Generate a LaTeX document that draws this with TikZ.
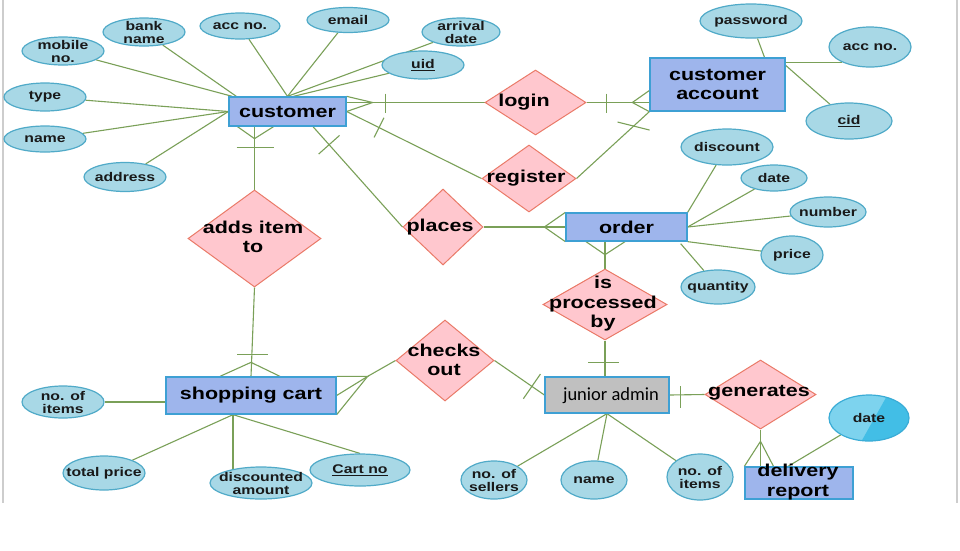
\documentclass[tikz,border=0pt]{standalone}
\usepackage{fontspec}
\setmainfont{Liberation Sans}
\newfontfamily\erfont{Liberation Sans}[FakeStretch=1.25]
\newfontfamily\adminfont{Carlito}
\usetikzlibrary{shapes.geometric,calc}
\pgfdeclarelayer{back}
\pgfdeclarelayer{bg}
\pgfsetlayers{back,bg,main}

\definecolor{entfill}{RGB}{158,181,236}
\definecolor{entdraw}{RGB}{62,160,212}
\definecolor{relfill}{RGB}{255,199,206}
\definecolor{reldraw}{RGB}{234,122,104}
\definecolor{attfill}{RGB}{168,216,230}
\definecolor{attdraw}{RGB}{80,170,200}
\definecolor{linkcol}{RGB}{122,160,88}
\definecolor{adminfill}{RGB}{192,192,192}
\definecolor{framecol}{RGB}{205,205,205}
\definecolor{datelight}{RGB}{125,211,238}
\definecolor{datedark}{RGB}{66,190,230}
\definecolor{datedraw}{RGB}{58,172,214}

\tikzset{
  etext/.style={font=\erfont\bfseries\fontsize{17.2}{19.5}\selectfont,
    align=center, text=black, inner sep=0pt},
  atext/.style={font=\erfont\bfseries\fontsize{12.6}{13}\selectfont,
    align=center, text=black!90, inner sep=0pt},
  admintext/.style={font=\adminfont\fontsize{18.5}{20}\selectfont,
    text=black, inner sep=0pt},
  entity/.style={rectangle, draw=entdraw, fill=entfill, line width=1.3pt,
    inner sep=0pt, etext},
  rel/.style={diamond, draw=reldraw, fill=relfill, line width=1pt, inner sep=0pt},
  attr/.style={ellipse, draw=attdraw, fill=attfill, line width=1.2pt, inner sep=0pt},
  link/.style={draw=linkcol, line width=1.1pt},
}

% attribute: name, position, width, height, label
\newcommand\attrnode[5]{%
  \node[attr, minimum width=#3pt, minimum height=#4pt] (#1) at (#2) {};
  \node[atext] (#1-t) at (#1) {#5};}

\begin{document}
\begin{tikzpicture}[x=1pt,y=-1pt]
\useasboundingbox (0,0) rectangle (960,550);
\begin{pgfonlayer}{back}
  \fill[white] (0,0) rectangle (960,550);
  \draw[framecol, line width=2pt] (3,0) -- (3,503);
  \draw[framecol, line width=1.5pt] (957,0) -- (957,503);
\end{pgfonlayer}

% ---------- entities ----------
\node[entity, minimum width=117pt, minimum height=29pt] (cust) at (287.5,111.5) {customer};
\node[entity, minimum width=135pt, minimum height=53pt] (acct) at (717.5,84.5) {customer\\account};
\node[entity, minimum width=121pt, minimum height=28pt] (order) at (626.5,227) {order};
\node[entity, minimum width=170pt, minimum height=37pt] (cart) at (251,395.5) {shopping cart};
\node[entity, fill=adminfill, minimum width=124pt, minimum height=36pt] (admin) at (607,395) {};
\node[admintext] (admin-t) at (611,396) {junior admin};
\node[entity, minimum width=108pt, minimum height=32pt] (del) at (799,483) {};
\node[etext] (del-t) at (798,482) {delivery\\report};

% ---------- relationships ----------
\node[rel, minimum width=101pt, minimum height=65pt] (login) at (535.5,102.5) {};
\node[etext] (login-t) at (524,102) {login};
\node[rel, minimum width=94pt, minimum height=67pt] (reg) at (529,178.5) {};
\node[etext] (reg-t) at (526,178) {register};
\node[rel, minimum width=80pt, minimum height=76pt] (places) at (443,227) {};
\node[etext] (places-t) at (440,227) {places};
\node[rel, minimum width=133pt, minimum height=97pt] (adds) at (254.5,238.5) {};
\node[etext] (adds-t) at (253,237) {adds item\\to};
\node[rel, minimum width=124pt, minimum height=71pt] (proc) at (605,304.5) {};
\node[etext] (proc-t) at (603,304) {is\\processed\\by};
\node[rel, minimum width=98pt, minimum height=81pt] (checks) at (445,360.5) {};
\node[etext] (checks-t) at (444,360) {checks\\out};
\node[rel, minimum width=111pt, minimum height=69pt] (gen) at (760.5,394.5) {};
\node[etext] (gen-t) at (759,393) {generates};

% ---------- attributes ----------
\attrnode{mob}{63,51}{82}{28}{mobile\\no.}
\attrnode{bank}{144,32}{82}{28}{bank\\name}
\attrnode{cacc}{240,26}{80}{26}{acc no.}
\attrnode{email}{348,20}{82}{25}{email}
\attrnode{arr}{461,32}{78}{28}{arrival\\date}
\attrnode{uid}{423,65}{82}{28}{\underline{uid}}
\attrnode{type}{45,97}{82}{28}{type}
\attrnode{cname}{45,139}{82}{26}{name}
\attrnode{addr}{125,177}{82}{29}{address}
\attrnode{pass}{751,21}{102}{34}{password}
\attrnode{aacc}{870,47}{82}{40}{acc no.}
\attrnode{cid}{849,121}{86}{36}{\underline{cid}}
\attrnode{disc}{727,147}{92}{36}{discount}
\attrnode{odate}{774,178}{66}{26}{date}
\attrnode{num}{828,212}{76}{30}{number}
\attrnode{price}{792,255}{62}{38}{price}
\attrnode{qty}{718,287}{74}{34}{quantity}
\attrnode{citems}{63,402}{82}{32}{no. of\\items}
\attrnode{tprice}{104,473}{82}{34}{total price}
\attrnode{disca}{261,483}{102}{32}{discounted\\amount}
\attrnode{cartno}{360,470}{100}{32}{\underline{Cart no}}
\attrnode{sellers}{494,480}{66}{38}{no. of\\sellers}
\attrnode{aname}{594,480}{66}{38}{name}
\attrnode{aitems}{700,477}{66}{46}{no. of\\items}
\node[attr, draw=datedraw, fill=datelight, minimum width=80pt, minimum height=46pt,
  path picture={\fill[datedark] ($(path picture bounding box.center)+(19,-24)$) -- ++(30,0)
    -- ++(0,48) -- ($(path picture bounding box.center)+(-8,24)$) -- cycle;}]
  (ddate) at (869,418) {};
\node[atext] (ddate-t) at (ddate) {date};

% ---------- connectors ----------
\begin{pgfonlayer}{bg}
% customer attributes
\draw[link] (mob) -- ($(cust.north west)+(4,0)$);
\draw[link] (bank) -- ($(cust.north west)+(8,0)$);
\draw[link] (cacc) -- (cust.north);
\draw[link] (email) -- (cust.north);
\draw[link] (arr) -- (cust.north);
\draw[link] (uid) -- ($(cust.north)+(6,0)$);
\draw[link] (type) -- (cust.west);
\draw[link] (cname) -- (cust.west);
\draw[link] (addr) -- (cust.west);

% customer -- login
\coordinate (cl-e) at (cust.east |- login);
\coordinate (cl-m) at ($(cl-e)+(26,0)$);
\draw[link] (cl-e) -- (login.west);
\draw[link] (cust.north east) -- (cl-m) -- (cust.east);
\draw[link] ($(cl-e)+(39,-9)$) -- ($(cl-e)+(39,10)$);

% login -- customer account
\coordinate (la-e) at (acct.west |- login);
\coordinate (la-m) at ($(la-e)+(-17,0)$);
\draw[link] (login.east) -- (la-e);
\draw[link] ($(la-e)+(0,-12)$) -- (la-m) -- (acct.south west);
\draw[link] ($(la-e)+(-43,-9)$) -- ($(la-e)+(-43,10)$);

% customer -- register
\draw[link] (cust.east) -- (reg.west);
\coordinate (cr-t) at ($(cust.east)!0.24!(reg.west)$);
\draw[link] ($(cr-t)!11pt!90:(reg.west)$) -- ($(cr-t)!11pt!-90:(reg.west)$);

% register -- customer account
\draw[link] (reg.east) -- (acct.south west);
\coordinate (ra-t) at ($(reg.east)!0.77!(acct.south west)$);
\draw[link] ($(ra-t)+(-15,-5)$) -- ($(ra-t)+(17,3)$);

% customer -- places
\coordinate (cp-s) at ($(cust.south)+(25.5,0)$);
\draw[link] (cp-s) -- (places.west);
\coordinate (cp-t) at ($(cp-s)!0.18!(places.west)$);
\draw[link] ($(cp-t)!14pt!90:(places.west)$) -- ($(cp-t)!14pt!-90:(places.west)$);

% places -- order
\coordinate (po-m) at ($(order.west)+(-21,0)$);
\draw[link] (places.east) -- (order.west);
\draw[link] (order.north west) -- (po-m) -- (order.south west);

% order -- is processed by
\coordinate (op-e) at (proc.north |- order.south);
\coordinate (op-m) at ($(op-e)+(0,13)$);
\draw[link] (op-e) -- (proc.north);
\draw[link] ($(op-e)+(-19,0)$) -- (op-m) -- ($(op-e)+(20,0)$);

% is processed by -- junior admin
\coordinate (pa-e) at (proc.south |- admin.north);
\draw[link] (proc.south) -- (pa-e);
\draw[link] ($(pa-e)+(-17,-14)$) -- ($(pa-e)+(14,-14)$);

% customer -- adds item to
\coordinate (ca-e) at (adds.north |- cust.south);
\coordinate (ca-m) at ($(ca-e)+(0,12)$);
\draw[link] (ca-e) -- (adds.north);
\draw[link] ($(ca-e)+(-17,0)$) -- (ca-m) -- ($(ca-e)+(19,0)$);
\draw[link] ($(ca-e)+(-18,21)$) -- ($(ca-e)+(19,21)$);

% adds item to -- shopping cart
\coordinate (ac-m) at ($(cart.north)+(0,-14)$);
\draw[link] (adds.south) -- (cart.north);
\draw[link] ($(cart.north)+(-31,0)$) -- (ac-m) -- ($(cart.north)+(29,0)$);
\draw[link] ($(cart.north)+(-14,-22)$) -- ($(cart.north)+(17,-22)$);

% shopping cart -- checks out
\coordinate (cc-m) at ($(cart.north east)+(31,0)$);
\draw[link] (cc-m) -- (checks.west);
\draw[link] (cart.north east) -- (cc-m) -- (cart.east);
\draw[link] (cc-m) -- (cart.south east);

% checks out -- junior admin
\draw[link] (checks.east) -- (admin.west);
\coordinate (ck-t) at ($(checks.east)!0.75!(admin.west)$);
\draw[link] ($(ck-t)!15pt!90:(admin.west)$) -- ($(ck-t)!15pt!-90:(admin.west)$);

% junior admin -- generates
\draw[link] (admin.east) -- (gen.west);
\draw[link] ($(admin.east)+(11,-9)$) -- ($(admin.east)+(11,13)$);

% generates -- delivery report
\coordinate (gd-e) at (gen.south |- del.north);
\coordinate (gd-m) at ($(gd-e)+(0,-25)$);
\draw[link] (gen.south) -- (gd-e);
\draw[link] (del.north west) -- (gd-m) -- ($(gd-e)+(13,0)$);

% delivery report attribute
\draw[link] ($(del.north)+(-11,0)$) -- (ddate);

% junior admin attributes
\draw[link] (admin.south) -- (sellers);
\draw[link] (admin.south) -- (aname);
\draw[link] (admin.south) -- (aitems);

% shopping cart attributes
\coordinate (cs) at ($(cart.south)+(-18,0)$);
\draw[link] (citems) -- (cart.west |- citems);
\draw[link] (cs) -- (tprice);
\draw[link] (cs) -- ($(cs |- disca.center)+(0,-13)$);
\draw[link] (cs) -- (cartno.north);

% order attributes
\draw[link] (disc) -- (order.north east);
\draw[link] (odate) -- (order.east);
\draw[link] (num) -- (order.east);
\draw[link] (price) -- (order.south east);
\draw[link] (qty) -- ($(order.south east)+(-7,2)$);

% customer account attributes
\draw[link] (pass) -- ($(acct.north)+(47,0)$);
\draw[link] (aacc.209) -- (acct.east |- aacc.209);
\draw[link] (cid) -- ($(acct.north east)+(0,8)$);
\end{pgfonlayer}
\end{tikzpicture}
\end{document}
